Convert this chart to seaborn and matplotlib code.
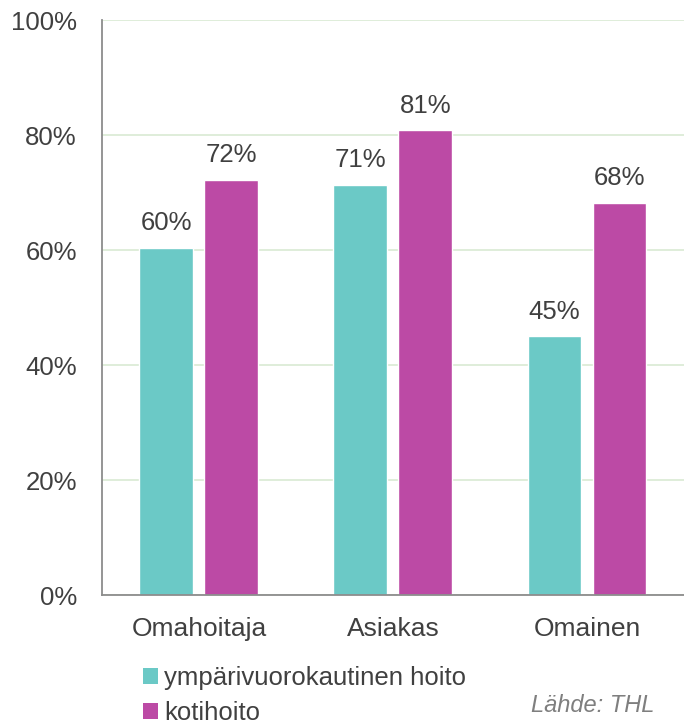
import seaborn as sns
import matplotlib.pyplot as plt
import pandas as pd
from matplotlib.patches import Patch

# data
kategoriat = ["Omahoitaja", "Asiakas", "Omainen"]
ymparivuorokautinen = [60.4, 71.4, 45.0]
kotihoito = [72.3, 80.9, 68.3]
sarjat = ["ympärivuorokautinen hoito", "kotihoito"]
y_ticks = [0, 20, 40, 60, 80, 100]

varit = ["#6BC9C6", "#BC4AA5"]
teksti = "#404040"

df = pd.DataFrame({
    "kategoria": kategoriat * 2,
    "osuus": ymparivuorokautinen + kotihoito,
    "sarja": [sarjat[0]] * 3 + [sarjat[1]] * 3,
})

sns.set_style("white")
plt.rcParams["font.family"] = ["Liberation Sans", "DejaVu Sans"]

fig = plt.figure(figsize=(6.84, 7.24), dpi=100)
ax = fig.add_axes([0.149, 0.178, 0.851, 0.794])

sns.barplot(data=df, x="kategoria", y="osuus", hue="sarja", hue_order=sarjat,
            palette=varit, width=0.67, gap=0.17, saturation=1, legend=False, ax=ax)

for cont in ax.containers:
    ax.bar_label(cont, labels=[f"{v:.0f}%" for v in cont.datavalues],
                 padding=9, fontsize=18.5, color=teksti)

ax.set_ylim(0, 100)
ax.set_xlim(-0.5, 2.5)
ax.set_yticks(y_ticks)
ax.set_yticklabels([f"{t}%" for t in y_ticks])
ax.yaxis.grid(True, color="#D9EAD3", linewidth=1.2)
ax.set_axisbelow(True)
ax.tick_params(axis="y", length=0, pad=18, labelsize=18.5, labelcolor=teksti)
ax.tick_params(axis="x", length=0, pad=16, labelsize=19, labelcolor=teksti)
ax.set_xlabel("")
ax.set_ylabel("")

for s in ["top", "right"]:
    ax.spines[s].set_visible(False)
for s in ["left", "bottom"]:
    ax.spines[s].set_color("#8C8C8C")
    ax.spines[s].set_linewidth(1.3)

kahvat = [Patch(facecolor=c, edgecolor="none") for c in varit]
fig.legend(kahvat, sarjat, loc="upper left", bbox_to_anchor=(0.209, 0.080),
           frameon=False, fontsize=18.5, labelcolor=teksti,
           handlelength=0.58, handleheight=0.58, handletextpad=0.23,
           labelspacing=0.43, borderaxespad=0, borderpad=0)

fig.text(0.956, 0.025, "Lähde: THL", ha="right", va="center",
         fontsize=17, style="italic", color="#7F7F7F")

fig.savefig("out.png", dpi=100)
